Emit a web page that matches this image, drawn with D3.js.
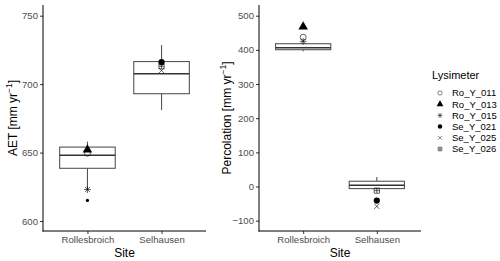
<!DOCTYPE html>
<html>
<head>
<meta charset="utf-8">
<script src="https://cdn.jsdelivr.net/npm/d3@7"></script>
<style>
  body { margin: 0; background: #fff; }
  text { font-family: "Liberation Sans", Arial, sans-serif; }
</style>
</head>
<body>
<svg id="chart" width="500" height="261"></svg>
<script>
// sites and lysimeters
var sites = ['Rollesbroich', 'Selhausen'];
var lysimeters = ['Ro_Y_011', 'Ro_Y_013', 'Ro_Y_015', 'Se_Y_021', 'Se_Y_025', 'Se_Y_026'];
var lysSite = ['Rollesbroich', 'Rollesbroich', 'Rollesbroich', 'Selhausen', 'Selhausen', 'Selhausen'];

// box stats per site: [lower whisker, q1, median, q3, upper whisker]
var aetBox = [[623, 638.5, 648, 654, 658], [681, 693, 707.5, 716.5, 728.5]];
var aetOutliers = [[615], []];
var percBox = [[396, 400.5, 406, 418, 420], [-8, -6, 4, 15.5, 28]];
var percOutliers = [[], []];

// lysimeter means
var aetLys = [649.5, 652, 623, 716, 710, 713];
var percLys = [437, 468, 425, -41, -58, -12];

var aetTicks = [600, 650, 700, 750];
var percTicks = [-100, 0, 100, 200, 300, 400, 500];

var svg = d3.select('#chart');
var top_ = 5, bottom = 231;

// shape paths, ggplot-ish shapes 1, 17, 8, 16, 4, 12
function shapePath(name, s) {
    var h = s / 2;
    switch (name) {
        case 'Ro_Y_011': return d3.symbol(d3.symbolCircle, Math.PI * h * h * 0.72)();
        case 'Ro_Y_013': return d3.symbol(d3.symbolTriangle, s * s * 0.8)();
        case 'Ro_Y_015':
            var d = h * 0.72;
            return 'M' + (-h) + ',0L' + h + ',0M0,' + (-h) + 'L0,' + h +
                'M' + (-d) + ',' + (-d) + 'L' + d + ',' + d + 'M' + (-d) + ',' + d + 'L' + d + ',' + (-d);
        case 'Se_Y_021': return d3.symbol(d3.symbolCircle, Math.PI * h * h * 0.8)();
        case 'Se_Y_025':
            var e = h * 0.75;
            return 'M' + (-e) + ',' + (-e) + 'L' + e + ',' + e + 'M' + (-e) + ',' + e + 'L' + e + ',' + (-e);
        case 'Se_Y_026':
            var q = h * 0.75;
            return 'M' + (-q) + ',' + (-q) + 'H' + q + 'V' + q + 'H' + (-q) + 'Z' +
                'M' + (-q) + ',0H' + q + 'M0,' + (-q) + 'V' + q;
    }
}
function shapeStyle(sel, name, sw) {
    var filled = name === 'Ro_Y_013' || name === 'Se_Y_021';
    sel.attr('fill', filled ? '#000' : 'none')
       .attr('stroke', '#000')
       .attr('stroke-width', filled ? 0 : (sw || 0.6));
}

function panel(opt) {
    var x = d3.scalePoint().domain(sites).range([opt.x0, opt.x1]).padding(0.6);
    var y = d3.scaleLinear().domain(opt.domain).range(opt.range);
    var step = x.step(), bw = step * 0.75;
    var g = svg.append('g');

    // boxes
    opt.box.forEach(function(b, i) {
        var cx = x(sites[i]);
        var bg = g.append('g').attr('stroke', '#555').attr('stroke-width', 1.1).attr('fill', 'none');
        bg.append('line').attr('x1', cx).attr('x2', cx).attr('y1', y(b[4])).attr('y2', y(b[3]));
        bg.append('line').attr('x1', cx).attr('x2', cx).attr('y1', y(b[1])).attr('y2', y(b[0]));
        bg.append('rect').attr('x', cx - bw / 2).attr('width', bw)
            .attr('y', y(b[3])).attr('height', y(b[1]) - y(b[3])).attr('fill', '#fff');
        bg.append('line').attr('x1', cx - bw / 2).attr('x2', cx + bw / 2)
            .attr('y1', y(b[2])).attr('y2', y(b[2])).attr('stroke', '#333').attr('stroke-width', 1.5);
        opt.outliers[i].forEach(function(o) {
            g.append('circle').attr('cx', cx).attr('cy', y(o)).attr('r', 1.6).attr('fill', '#000');
        });
    });

    // lysimeter points
    lysimeters.forEach(function(l, i) {
        g.append('path').attr('d', shapePath(l, 7))
            .attr('transform', 'translate(' + x(lysSite[i]) + ',' + y(opt.lys[i]) + ')')
            .call(shapeStyle, l);
    });

    // axes
    var ya = g.append('g').attr('transform', 'translate(' + opt.x0 + ',0)')
        .call(d3.axisLeft(y).tickValues(opt.ticks).tickSize(3).tickPadding(2));
    var xa = g.append('g').attr('transform', 'translate(0,' + bottom + ')')
        .call(d3.axisBottom(x).tickSize(3).tickPadding(2));
    [ya, xa].forEach(function(a) {
        a.select('.domain').remove();
        a.selectAll('.tick line').attr('stroke', '#333');
        a.selectAll('.tick text').attr('fill', '#4d4d4d').style('font-size', '9.6px');
    });
    g.append('line').attr('x1', opt.x0).attr('x2', opt.x0).attr('y1', top_).attr('y2', bottom + 0.5)
        .attr('stroke', '#000').attr('stroke-width', 1);
    g.append('line').attr('x1', opt.x0 - 0.5).attr('x2', opt.x1).attr('y1', bottom).attr('y2', bottom)
        .attr('stroke', '#000').attr('stroke-width', 1);

    g.append('text').attr('x', (opt.x0 + opt.x1) / 2).attr('y', 257)
        .attr('text-anchor', 'middle').style('font-size', '12px').text('Site');

    var t = g.append('text').attr('transform', 'translate(' + opt.tx + ',' + ((top_ + bottom) / 2) + ') rotate(-90)')
        .attr('text-anchor', 'middle').style('font-size', '12px');
    t.append('tspan').text(opt.title + ' [mm yr');
    t.append('tspan').attr('dy', -5).style('font-size', '8.5px').text('\u22121');
    t.append('tspan').attr('dy', 5).text(']');
}

panel({x0: 43, x1: 206, domain: [600, 750], range: [221, 15.7], box: aetBox, outliers: aetOutliers,
       lys: aetLys, ticks: aetTicks, title: 'AET', tx: 17});
panel({x0: 259, x1: 421, domain: [-100, 500], range: [220.7, 15.7], box: percBox, outliers: percOutliers,
       lys: percLys, ticks: percTicks, title: 'Percolation', tx: 231});

// legend
var leg = svg.append('g').attr('transform', 'translate(432,0)');
leg.append('text').attr('x', 0).attr('y', 79).style('font-size', '11px').text('Lysimeter');
lysimeters.forEach(function(l, i) {
    var yy = 93 + i * 11.2;
    leg.append('path').attr('d', shapePath(l, 5)).attr('transform', 'translate(8,' + yy + ')')
        .call(shapeStyle, l, 0.5);
    leg.append('text').attr('x', 20).attr('y', yy + 3.4).style('font-size', '9.5px')
        .attr('fill', '#000').text(l);
});
</script>
</body>
</html>
